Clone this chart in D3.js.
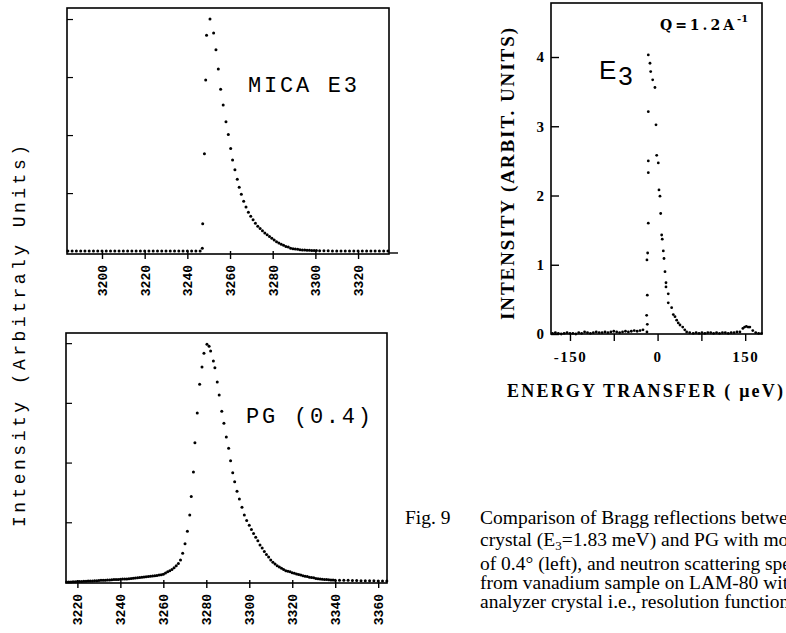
<!DOCTYPE html>
<html lang="en">
<head>
<meta charset="UTF-8">
<title>Fig. 9 Bragg reflections</title>
<style>
  body { margin: 0; background: #fff; }
  svg { display: block; }
</style>
</head>
<body>
<div id="chart"></div>
<script src="https://d3js.org/d3.v7.min.js"></script>
<script>
// MICA E3 (top left), x = channel, y = intensity (arb.)
const micaX = [3184,3186,3188,3190,3192,3194,3196,3198,3200,3202,3204,3206,3208,3210,3212,3214,
  3216,3218,3220,3222,3224,3226,3228,3230,3232,3234,3236,3238,3240,3242,3244,3246,
  3247,3247.2,3248,3248.6,3249,3250.6,3252.3,3253.4,3254.5,3255.6,3256.8,3258.1,3259.2,3260.3,
  3261.2,3262.3,3263.4,3264.3,3265.3,3266.4,3267.5,3268.6,
  3269.7,3270.8,3271.9,3273,3274.1,3275.2,3276.3,3277.4,3278.5,3279.6,3280.7,3281.8,3282.9,
  3284,3285.1,3286.2,3287.3,3288.4,3289.5,3290.6,3291.7,3292.8,3293.9,3295,3296.1,3297.2,
  3298.3,3299.4,3300.5,3302,3304,3306,3308,3310,3312,3314,3316,3318,3320,3322,3324,3326,
  3328,3330,3332,3334];
const micaY = [0,0,0,0,0,0,0,0,0,0,0,0,0,0,0,0,
  0,0,0,0,0,0,0,0,0,0,0,0,0,0,0,0,
  0.05,0.47,1.68,2.95,3.72,4.0,3.76,3.47,3.14,2.79,2.52,2.23,2.01,1.77,
  1.57,1.40,1.24,1.10,0.98,0.86,0.76,0.67,
  0.60,0.54,0.48,0.43,0.39,0.35,0.31,0.28,0.25,0.22,0.19,0.16,0.14,
  0.12,0.10,0.08,0.07,0.05,0.04,0.035,0.03,0.025,0.02,0.02,0.015,0.015,
  0.01,0.01,0.01,0.005,0.005,0.005,0,0,0,0,0,0,0,0,0,0,
  0,0,0,0];

// PG (0.4) (bottom left)
const pgX = [3215,3216,3217,3218,3219,3220,3221,3222,3223,3224,3225,3226,3227,3228,3229,3230,
  3231,3232,3233,3234,3235,3236,3237,3238,3239,3240,3241,3242,3243,3244,3245,3246,3247,3248,
  3249,3250,3251,3252,3253,3254,3255,3256,3257,3258,3259,3260,3261,3262,3263,3264,3265,3266,
  3267,3268,
  3269,3270.1,3271.2,3272.3,3273,3274,3274.7,3275.8,3276.9,3278,3278.9,3280.3,3281.3,3282,
  3283.3,3284,3285.1,3286,3287.2,3288.2,3289.3,3290.4,3291.3,3292.3,3293.2,3294.3,3295.4,
  3296.6,3297.7,3298.8,
  3300,3301,3302,3303,3304,3305,3306,3307,3308,3309,3310,3311,3312,3313,3314,3315,3316,3317,
  3318,3319,3320,3321,3322,3323,3324,3325,3326,3327,3328,3329,3330,3331,3332,3333,3334,3335,
  3336,3337,3338,3339,3340,3342,3344,3346,3348,3350,3352,3354,3356,3358,3360,3362,3364];
const pgY = [0,0,0,0.005,0.005,0.01,0.01,0.01,0.012,0.014,0.015,0.017,0.018,0.02,0.022,0.025,
  0.027,0.03,0.03,0.032,0.035,0.037,0.04,0.04,0.042,0.045,0.048,0.05,0.052,0.055,0.06,0.063,0.066,0.07,
  0.075,0.08,0.084,0.088,0.092,0.096,0.10,0.105,0.11,0.115,0.12,0.13,0.15,0.17,0.19,0.21,0.24,0.27,
  0.31,0.37,
  0.48,0.64,0.85,1.12,1.43,1.84,2.33,2.83,3.31,3.60,3.83,3.98,3.95,3.87,
  3.70,3.59,3.35,3.13,2.86,2.66,2.43,2.24,2.03,1.83,1.68,1.52,1.39,
  1.25,1.12,1.03,
  0.95,0.88,0.81,0.75,0.69,0.62,0.57,0.51,0.46,0.42,0.37,0.33,0.30,0.27,0.25,0.23,0.21,0.19,
  0.18,0.17,0.155,0.145,0.135,0.125,0.115,0.105,0.095,0.09,0.08,0.075,0.07,0.06,0.055,0.05,0.045,0.042,
  0.04,0.038,0.035,0.033,0.03,0.03,0.028,0.027,0.025,0.025,0.022,0.02,0.02,0.02,0.018,0.015,0.015];

// E3 resolution function (right), x = energy transfer (ueV)
const e3X = [-180,-175,-170,-165,-160,-155,-150,-145,-140,-135,-130,-125,-120,-115,-110,-105,
  -100,-95,-90,-85,-80,-75,-70,-65,-60,-55,-50,-45,-40,-35,-30,-25,
  -18.2,-17.6,-18.7,-17.6,-18.2,-17.0,-15.9,-15.9,-15.9,-15.9,
  -15.9,-13.0,-11.8,-8.4,-4.5,-2.7,-1.5,1.2,2.4,4.1,5.3,7.0,8.0,9.8,11.0,12.7,14.4,14.4,
  18.3,18.3,24.1,26.9,29.8,32.7,35.4,38.4,43.0,46.5,49.8,55,61,
  66,71,76,81,86,91,96,101,106,111,116,121,126,131,136,141,146,149,152,155,158,163,168,173,178];
const e3Y = [0.01,0.02,0.01,0,0.01,0.02,0.01,0.01,0,0.02,0.01,0.03,0.02,0.01,0.02,0.03,
  0.02,0.02,0.03,0.02,0.03,0.04,0.03,0.02,0.03,0.04,0.03,0.04,0.05,0.04,0.05,0.06,
  0.03,0.14,0.27,0.56,1.07,1.17,1.60,2.33,2.50,3.21,
  4.03,3.91,3.79,3.67,3.56,3.02,2.58,2.47,2.08,1.99,1.74,1.43,1.37,1.20,1.09,0.90,0.74,0.68,
  0.58,0.45,0.38,0.28,0.25,0.20,0.16,0.13,0.10,0.06,0.03,0.02,0.01,
  0.02,0.01,0.02,0.01,0.02,0.02,0.01,0.02,0.01,0.02,0.02,0.01,0.02,0.02,0.03,0.03,0.08,0.10,0.11,0.10,0.10,0.05,0.02,0.01,0.01];

const micaTicks = [3200,3220,3240,3260,3280,3300,3320];
const pgTicks = [3220,3240,3260,3280,3300,3320,3340,3360];
const leftYTicks = [1,2,3,4];
const e3XTicks = [-150,-75,0,75,150];
const e3XTickLabels = ["-150","","0","","150"];
const e3YTicks = [0,1,2,3,4];

const caption = [
  "Comparison of Bragg reflections between mica",
  "crystal (E|3|=1.83 meV) and PG with mosaic",
  "of 0.4\u00b0 (left), and neutron scattering spectra",
  "from vanadium sample on LAM-80 with mica",
  "analyzer crystal i.e., resolution function"
];

const W = 786, H = 633;
const svg = d3.select("#chart").append("svg").attr("width", W).attr("height", H);
svg.append("rect").attr("width", W).attr("height", H).attr("fill", "#fff");

const mono = "'Liberation Mono', 'DejaVu Sans Mono', monospace";
const serif = "'Liberation Serif', 'DejaVu Serif', serif";

function leftPanel(xs, ys, xDom, yDom, box, ticks) {
  const x = d3.scaleLinear().domain(xDom).range([box.l, box.r]);
  const y = d3.scaleLinear().domain(yDom).range([box.b, box.t]);
  const g = svg.append("g");
  g.append("rect")
    .attr("x", box.l).attr("y", box.t)
    .attr("width", box.r - box.l).attr("height", box.b - box.t)
    .attr("fill", "none").attr("stroke", "#000").attr("stroke-width", 1.6);

  const xa = g.append("g").attr("transform", `translate(0,${box.b})`)
    .call(d3.axisBottom(x).tickValues(ticks).tickSize(5).tickFormat(d3.format("d")));
  xa.select(".domain").remove();
  xa.selectAll("line").attr("y1", -3).attr("stroke", "#000").attr("stroke-width", 1.4);
  xa.selectAll("text")
    .attr("transform", "rotate(-90)")
    .attr("x", -11).attr("y", 0).attr("dy", "0.35em")
    .attr("text-anchor", "end")
    .attr("font-family", mono).attr("font-weight", "bold").attr("font-size", 13)
    .attr("fill", "#000");

  const ya = g.append("g").attr("transform", `translate(${box.l},0)`)
    .call(d3.axisRight(y).tickValues(leftYTicks).tickSize(6).tickFormat(""));
  ya.select(".domain").remove();
  ya.selectAll("line").attr("stroke", "#000").attr("stroke-width", 1.2);

  g.append("g").selectAll("circle")
    .data(xs.map((v, i) => [v, ys[i]]))
    .join("circle")
    .attr("cx", d => x(d[0]))
    .attr("cy", d => y(d[1]))
    .attr("r", 1.5)
    .attr("fill", "#000");
  return g;
}

// top left: MICA E3
leftPanel(micaX, micaY, [3183.6, 3334.5], [-0.05, 4.19], {l: 67, r: 389, t: 8, b: 254}, micaTicks);
svg.append("line").attr("x1", 389).attr("x2", 398).attr("y1", 253).attr("y2", 253)
  .attr("stroke", "#000").attr("stroke-width", 1.4);
svg.append("text").attr("x", 248).attr("y", 92)
  .attr("font-family", mono).attr("font-size", 22)
  .attr("textLength", 109).attr("lengthAdjust", "spacing")
  .text("MICA E3");

// bottom left: PG (0.4)
leftPanel(pgX, pgY, [3214.7, 3364.1], [-0.017, 4.17], {l: 66, r: 387, t: 333, b: 583}, pgTicks);
svg.append("text").attr("x", 246).attr("y", 423)
  .attr("font-family", mono).attr("font-size", 22)
  .attr("textLength", 125).attr("lengthAdjust", "spacing")
  .text("PG (0.4)");

// shared y label on the left
svg.append("text")
  .attr("transform", "translate(25,527) rotate(-90)")
  .attr("font-family", mono).attr("font-size", 18)
  .attr("textLength", 382).attr("lengthAdjust", "spacing")
  .text("Intensity (Arbitraly Units)");

// right panel: E3 resolution
const ex = d3.scaleLinear().domain([-182.5, 178.8]).range([551, 762]);
const ey = d3.scaleLinear().domain([0, 4.78]).range([334, 3]);
const rg = svg.append("g");
rg.append("rect").attr("x", 551).attr("y", 3).attr("width", 211).attr("height", 331)
  .attr("fill", "none").attr("stroke", "#000").attr("stroke-width", 1.6);

const exa = rg.append("g").attr("transform", "translate(0,334)")
  .call(d3.axisBottom(ex).tickValues(e3XTicks).tickSize(7).tickPadding(10)
    .tickFormat((d, i) => e3XTickLabels[i]));
exa.select(".domain").remove();
exa.selectAll("line").attr("stroke", "#000").attr("stroke-width", 1.4);
exa.selectAll("text").attr("font-family", serif).attr("font-weight", "bold")
  .attr("font-size", 15).attr("fill", "#000").attr("letter-spacing", 1.5);

const eya = rg.append("g").attr("transform", "translate(551,0)")
  .call(d3.axisLeft(ey).tickValues(e3YTicks).tickSize(-8).tickPadding(7).tickFormat(d3.format("d")));
eya.select(".domain").remove();
eya.selectAll("line").attr("stroke", "#000").attr("stroke-width", 1.4);
eya.selectAll("text").attr("font-family", serif).attr("font-weight", "bold")
  .attr("font-size", 15).attr("fill", "#000");

rg.append("g").selectAll("circle")
  .data(e3X.map((v, i) => [v, e3Y[i]]))
  .join("circle")
  .attr("cx", d => ex(d[0]))
  .attr("cy", d => ey(d[1]))
  .attr("r", 1.4)
  .attr("fill", "#000");

const e3lab = rg.append("text").attr("x", 599).attr("y", 79)
  .attr("font-family", "'Liberation Sans', sans-serif").attr("font-size", 26);
e3lab.append("tspan").text("E");
e3lab.append("tspan").attr("dx", 2).attr("dy", 6).text("3");

rg.append("text").attr("x", 660).attr("y", 30)
  .attr("font-family", "'DejaVu Serif', serif").attr("font-weight", "bold").attr("font-size", 14)
  .attr("textLength", 74).attr("lengthAdjust", "spacing")
  .text("Q=1.2A");
rg.append("text").attr("x", 737).attr("y", 22)
  .attr("font-family", "'DejaVu Serif', serif").attr("font-weight", "bold").attr("font-size", 10)
  .text("-1");

svg.append("text")
  .attr("transform", "translate(514,320) rotate(-90)")
  .attr("font-family", serif).attr("font-weight", "bold").attr("font-size", 19)
  .attr("textLength", 292).attr("lengthAdjust", "spacing")
  .text("INTENSITY (ARBIT. UNITS)");

svg.append("text").attr("x", 507).attr("y", 397)
  .attr("font-family", serif).attr("font-weight", "bold").attr("font-size", 18)
  .attr("textLength", 276).attr("lengthAdjust", "spacing")
  .text("ENERGY TRANSFER ( \u03bceV)");

// caption
const capY = [524, 546, 570, 589, 608];
const cap = svg.append("g").attr("font-family", serif).attr("font-size", 19.5);
cap.append("text").attr("x", 405).attr("y", capY[0]).text("Fig. 9");
caption.forEach((line, i) => {
  const t = cap.append("text").attr("x", 480).attr("y", capY[i]);
  const parts = line.split("|");
  parts.forEach((p, j) => {
    const ts = t.append("tspan").text(p);
    if (j === 1) ts.attr("font-size", 13).attr("dy", 4);
    if (j === 2) ts.attr("dy", -4);
  });
});
</script>
</body>
</html>
